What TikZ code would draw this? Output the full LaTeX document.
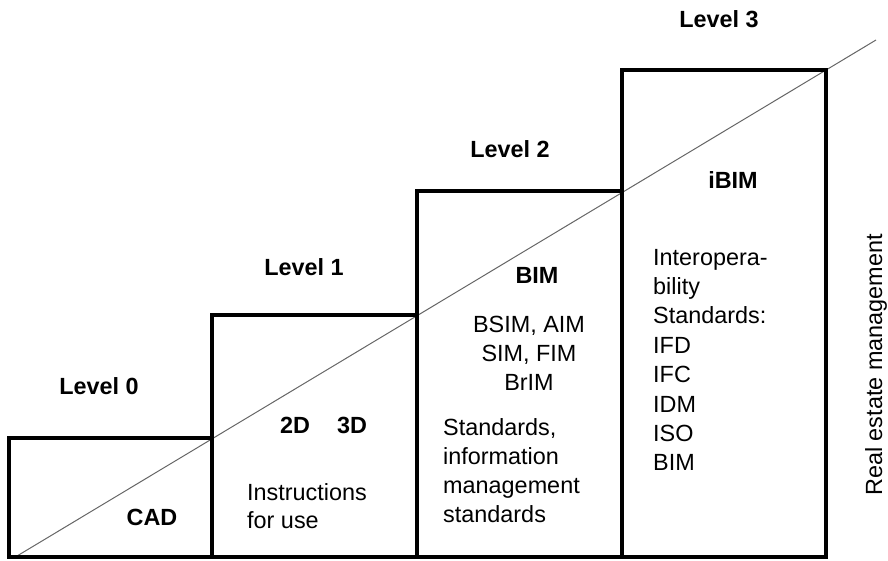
\documentclass[tikz,border=0pt]{standalone}
\usepackage{fontspec}
\setmainfont{Liberation Sans}
\begin{document}
\begin{tikzpicture}[x=1pt,y=-1pt,
  stagebox/.style={draw=black,line width=3.5pt,line join=miter},
  lvl/.style={font=\fontsize{23.4}{28}\selectfont\bfseries,inner sep=0pt,anchor=base},
  txt/.style={font=\fontsize{23.4}{28}\selectfont,inner sep=0pt},
  diag/.style={draw=black!60,line width=1pt}]
\useasboundingbox (0,0) rectangle (888,560);
% diagonal
\coordinate (ds) at (17,556);
\coordinate (de) at (876,40);
\draw[diag] (ds) -- (de);
% stair boxes
\draw[stagebox] (9,438) rectangle (212,557);
\draw[stagebox] (212,315) rectangle (417,557);
\draw[stagebox] (417,191) rectangle (622,557);
\draw[stagebox] (622,70) rectangle (826,557);
% level labels
\node[lvl] (l0) at (99,394) {Level 0};
\node[lvl] (l1) at (304,275) {Level 1};
\node[lvl] (l2) at (510,157) {Level 2};
\node[lvl] (l3) at (719,27) {Level 3};
% box titles
\node[lvl] (cad) at (152,525) {CAD};
\node[lvl] (d2) at (295,433) {2D};
\node[lvl] (d3) at (352,433) {3D};
\node[lvl] (bim) at (537,283) {BIM};
\node[lvl] (ibim) at (733,188) {iBIM};
% box 1 text
\node[txt,anchor=base west] (i1) at (247,500) {Instructions};
\node[txt,anchor=base west] (i2) at (247,528) {for use};
% box 2 text
\foreach \t [count=\i from 0] in {{BSIM, AIM},{SIM, FIM},{BrIM}}
  \node[txt,anchor=base] (b\i) at (529,332+29*\i) {\t};
\foreach \t [count=\i from 0] in {{Standards,},information,management,standards}
  \node[txt,anchor=base west] (s\i) at (443,435+29.3*\i) {\t};
% box 3 text
\foreach \t [count=\i from 0] in {Interopera-,bility,Standards:,IFD,IFC,IDM,ISO,BIM}
  \node[txt,anchor=base west] (c\i) at (653,265+29.4*\i) {\t};
% side label
\node[txt,anchor=base,rotate=90] (rem) at (882,365) {Real estate management};
\end{tikzpicture}
\end{document}
